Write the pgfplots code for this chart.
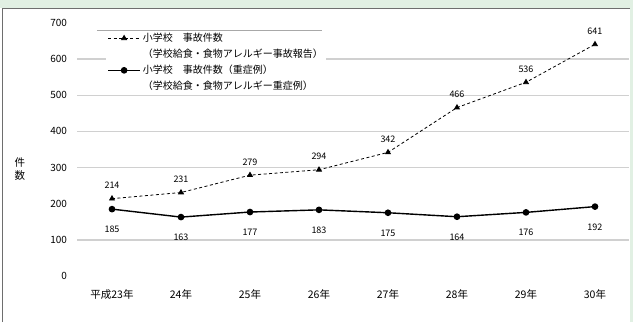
\documentclass[border=0pt]{standalone}
\usepackage{pgfplots}
\pgfplotsset{compat=1.18}
\usetikzlibrary{calc}
\usepackage{fontspec}
\setmainfont{Noto Sans CJK JP}
\definecolor{bgg}{HTML}{E1F0E3}
\definecolor{framec}{HTML}{6E6E6E}
\definecolor{gridc}{HTML}{D0D0D0}
\begin{document}
\begin{tikzpicture}
\begin{axis}[
  width=552pt, height=253pt, scale only axis,
  xmin=-0.5, xmax=7.5, ymin=0, ymax=700,
  ytick={0,100,...,700},
  xtick={0,...,7},
  xticklabels={平成23年,24年,25年,26年,27年,28年,29年,30年},
  axis line style={draw=none},
  major tick length=0pt,
  /pgf/number format/assume math mode=true,
  yticklabel style={font=\fontsize{10}{11}\selectfont, xshift=-7pt},
  xticklabel style={font=\fontsize{10.5}{11}\selectfont, yshift=-10pt},
  extra y ticks={100,300,400,500,600},
  extra y tick labels={},
  extra y tick style={grid=major, major grid style={gridc, line width=1.3pt}},
  clip=false,
  legend style={at={(0.052,0.972)}, anchor=north west, draw=none, fill=white,
    font=\fontsize{10}{11.5}\selectfont, inner sep=1pt, row sep=2pt,
    cells={anchor=west}},
  legend image code/.code={\draw[#1] plot coordinates {(0pt,0pt) (16pt,0pt) (32pt,0pt)};},
  legend cell align=left,
]
\coordinate (O) at (axis cs:-0.5,0);
\addlegendimage{black, line width=0.8pt, dash pattern=on 3pt off 2.5pt, mark=triangle*, mark size=2.8pt, mark options={solid}, mark indices={2}}
\addlegendentry{小学校　事故件数}
\addlegendimage{empty legend}
\addlegendentry{（学校給食・食物アレルギー事故報告）}
\addlegendimage{black, line width=1.4pt, mark=*, mark size=2.6pt, mark indices={2}}
\addlegendentry{小学校　事故件数（重症例）}
\addlegendimage{empty legend}
\addlegendentry{（学校給食・食物アレルギー重症例）}

\addplot[black, line width=0.8pt, dash pattern=on 3pt off 2.5pt,
  mark=triangle*, mark size=2.8pt, mark options={solid},
  nodes near coords, point meta=y,
  every node near coord/.append style={font=\fontsize{9}{10}\selectfont, anchor=south, yshift=6pt},
  forget plot] table {
x y
0 214
1 231
2 279
3 294
4 342
5 466
6 536
7 641
};
\addplot[black, line width=1.4pt,
  mark=*, mark size=2.6pt,
  nodes near coords, point meta=y,
  every node near coord/.append style={font=\fontsize{9}{10}\selectfont, anchor=north, yshift=-13pt},
  forget plot] table {
x y
0 185
1 163
2 177
3 183
4 175
5 164
6 176
7 192
};
\end{axis}
\begin{scope}[shift={($(O)-(77.5pt,46pt)$)}, x=1pt, y=1pt]
\fill[bgg] (0,314) rectangle (633,322);
\fill[bgg] (630,0) rectangle (633,314);
\draw[framec, line width=1.2pt] (2.5,0) -- (2.5,313.5) -- (630,313.5);
\draw[framec!60, line width=1pt] (97,291) -- (322,291);
\node[font=\fontsize{10.5}{13}\selectfont, align=center] at (20,153) {件\\数};
\pgfresetboundingbox
\useasboundingbox (0,0) rectangle (633,322);
\end{scope}
\end{tikzpicture}
\end{document}
